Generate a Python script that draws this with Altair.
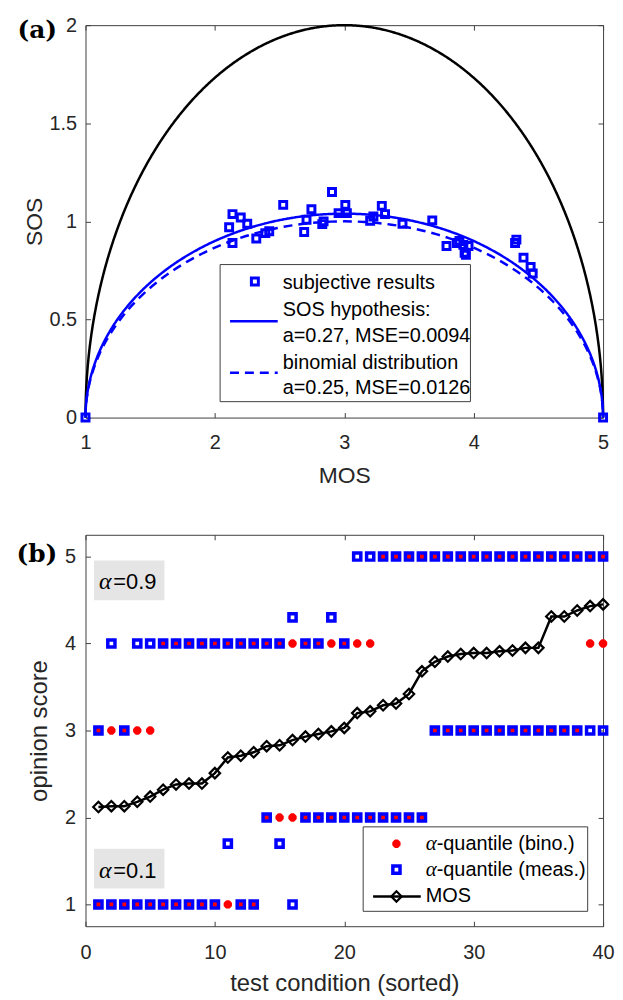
import altair as alt
import pandas as pd

# ---------------- Panel (a) data ----------------
A_MOS = [2.905, 2.528, 2.136, 2.20, 2.25, 2.11, 2.136, 2.32, 2.39, 2.42,
         2.746, 2.708, 2.69, 2.83, 2.84, 2.956, 3.008, 3.02, 3.20, 3.225,
         3.29, 3.315, 3.45, 3.68, 3.79, 3.87, 3.89, 3.92, 3.93, 3.96,
         3.94, 4.32, 4.33, 4.385, 4.44, 4.456, 1.0, 5.0]
A_SOS = [1.15, 1.084, 1.037, 1.02, 0.988, 0.97, 0.89, 0.913, 0.94, 0.95,
         1.062, 1.008, 0.946, 0.986, 1.0, 1.042, 1.084, 1.042, 1.003, 1.025,
         1.079, 1.037, 0.988, 1.005, 0.874, 0.89, 0.90, 0.88, 0.84, 0.874,
         0.83, 0.89, 0.907, 0.815, 0.768, 0.734, 0.0, 0.0]

CURVE_A = [1.0, 0.27, 0.25]          # SOS^2 = a * (-MOS^2 + 6 MOS - 5)
CURVE_COLORS = ["#000000", "#0000ff", "#0000ff"]
CURVE_DASH = [[1, 0], [1, 0], [9, 6]]

A_LEGEND = ["subjective results", "SOS hypothesis:", "a=0.27, MSE=0.0094",
            "binomial distribution", "a=0.25, MSE=0.0126"]

# ---------------- Panel (b) data ----------------
B_COND = list(range(1, 41))
B_MOS = [2.12, 2.13, 2.13, 2.18, 2.24, 2.32, 2.38, 2.39, 2.39, 2.51,
         2.69, 2.71, 2.75, 2.82, 2.83, 2.89, 2.93, 2.96, 2.99, 3.03,
         3.20, 3.22, 3.29, 3.31, 3.42, 3.68, 3.79, 3.85, 3.88, 3.89,
         3.89, 3.91, 3.92, 3.95, 3.95, 4.31, 4.31, 4.38, 4.43, 4.45]
B_Q90_BINO = [3] * 5 + [4] * 17 + [5] * 18
B_Q90_MEAS = [3, 4, 3, 4, 4, 4, 4, 4, 4, 4,
              4, 4, 4, 4, 4, 4.3, 4, 4, 4.3, 4] + [5] * 20
B_Q10_BINO = [1] * 13 + [2] * 13 + [3] * 12 + [4] * 2
B_Q10_MEAS = [1] * 10 + [1.7, 1, 1, 2, 1.7, 1] + [2] * 10 + [3] * 14
B_LEGEND = ["-quantile (bino.)", "-quantile (meas.)", "MOS"]

# ---------------- styling ----------------
FONT = "Liberation Sans"
AX = "#404040"
LBL = "#262626"
BLUE = "#0000ff"
RED = "#ff0000"
ASTERISK = "M-1,0L1,0M0,-1L0,1M-0.7,-0.7L0.7,0.7M-0.7,0.7L0.7,-0.7"

W = 521
HA = 395
HB = 394

one = pd.DataFrame({"k": [0]})


def main_axis(title, values, fmt, label_pad, title_pad, title_size=22):
    return alt.Axis(title=title, values=values, format=fmt, ticks=False, tickSize=0,
                    domain=True, domainColor=AX, domainWidth=1, grid=False,
                    labelFont=FONT, labelFontSize=20, labelColor=LBL,
                    labelPadding=label_pad, labelFlush=False, labelOverlap=False,
                    titleFont=FONT, titleFontSize=title_size, titleFontWeight="normal",
                    titleColor=LBL, titlePadding=title_pad)


def tick_axis(orient, values, offset, domain):
    return alt.Axis(orient=orient, values=values, offset=offset, labels=False,
                    ticks=True, tickSize=5, tickColor=AX, tickWidth=1,
                    domain=domain, domainColor=AX, domainWidth=1, grid=False, title=None)


def txt(s, x, y, size=20, align="left", font=FONT, style="normal", weight="normal"):
    return alt.Chart(one).mark_text(text=s, font=font, fontSize=size, align=align,
                                    baseline="middle", color="#000000",
                                    fontStyle=style, fontWeight=weight).encode(
        x=alt.value(x), y=alt.value(y))


# ================= Panel (a) =================
xa = alt.Scale(domain=[1, 5], nice=False, zero=False)
ya = alt.Scale(domain=[0, 2], nice=False, zero=False)
XA_V = [1, 2, 3, 4, 5]
YA_V = [0, 0.5, 1, 1.5, 2]


def curve(i, xaxis, yaxis):
    a = CURVE_A[i]
    return alt.Chart(alt.sequence(0, 181, 1.5, as_="t")).transform_calculate(
        mos="3 - 2*cos(datum.t*PI/180)",
        sos=f"2*sqrt({a})*sin(datum.t*PI/180)",
    ).mark_line(color=CURVE_COLORS[i], strokeWidth=2.5, strokeDash=CURVE_DASH[i]).encode(
        x=alt.X("mos:Q", scale=xa, axis=xaxis),
        y=alt.Y("sos:Q", scale=ya, axis=yaxis),
        order="t:Q",
    )


a_black = curve(0, main_axis("MOS", XA_V, "d", 15, 12, 23),
                main_axis("SOS", YA_V, ".1~f", 9, 2, 23))
a_sos = curve(1, tick_axis("top", XA_V, -HA, False), tick_axis("right", YA_V, -W, False))
a_bin = curve(2, tick_axis("bottom", XA_V, -HA, True), tick_axis("left", YA_V, -W, True))

a_pts = alt.Chart(pd.DataFrame({"mos": A_MOS, "sos": A_SOS})).mark_point(
    shape="square", filled=False, color=BLUE, size=49, strokeWidth=3, opacity=1).encode(
    x=alt.X("mos:Q", scale=xa, axis=None),
    y=alt.Y("sos:Q", scale=ya, axis=None),
)

# legend (a)
lg_a_box = alt.Chart(one).mark_rect(fill="white", stroke=AX, strokeWidth=1).encode(
    x=alt.value(135.5), x2=alt.value(387.5), y=alt.value(241), y2=alt.value(379))
lg_a_sq = alt.Chart(one).mark_point(shape="square", filled=False, color=BLUE, size=49,
                                    strokeWidth=3, opacity=1).encode(
    x=alt.value(170.5), y=alt.value(258))
lg_a_l1 = alt.Chart(one).mark_rule(color=BLUE, strokeWidth=2.5).encode(
    x=alt.value(145.5), x2=alt.value(193.5), y=alt.value(298))
lg_a_l2 = alt.Chart(one).mark_rule(color=BLUE, strokeWidth=2.5, strokeDash=[9, 6]).encode(
    x=alt.value(145.5), x2=alt.value(193.5), y=alt.value(350))
lg_a_txt = [txt(A_LEGEND[0], 198.5, 260),
            txt(A_LEGEND[1], 198.5, 287),
            txt(A_LEGEND[2], 198.5, 313),
            txt(A_LEGEND[3], 198.5, 340),
            txt(A_LEGEND[4], 198.5, 365)]
lab_a = txt("(a)", -48.5, 5, size=25, align="center", font="DejaVu Serif", weight="bold")

panel_a = alt.layer(a_black, a_sos, a_bin, a_pts, lg_a_box, lg_a_sq, lg_a_l1, lg_a_l2,
                    *lg_a_txt, lab_a).resolve_axis(x="independent", y="independent").properties(
    width=W, height=HA)

# ================= Panel (b) =================
xb = alt.Scale(domain=[0, 40], nice=False, zero=False)
yb = alt.Scale(domain=[0.75, 5.25], nice=False, zero=False)
XB_V = [0, 10, 20, 30, 40]
YB_V = [1, 2, 3, 4, 5]

rows = []
for i, c in enumerate(B_COND):
    rows.append({"cond": c, "kind": "bino", "v": B_Q90_BINO[i]})
    rows.append({"cond": c, "kind": "bino", "v": B_Q10_BINO[i]})
    rows.append({"cond": c, "kind": "meas", "v": B_Q90_MEAS[i]})
    rows.append({"cond": c, "kind": "meas", "v": B_Q10_MEAS[i]})
df_q = pd.DataFrame(rows)
df_m = pd.DataFrame({"cond": B_COND, "mos": B_MOS})

b_bino = alt.Chart(df_q).transform_filter("datum.kind == 'bino'").mark_point(
    shape=ASTERISK, filled=False, color=RED, size=70, strokeWidth=3, opacity=1).encode(
    x=alt.X("cond:Q", scale=xb,
            axis=main_axis("test condition (sorted)", XB_V, "d", 16, 10, 24)),
    y=alt.Y("v:Q", scale=yb, axis=main_axis("opinion score", YB_V, "d", 10, 13, 24)),
)
b_meas = alt.Chart(df_q).transform_filter("datum.kind == 'meas'").mark_point(
    shape="square", filled=False, color=BLUE, size=52, strokeWidth=3.5, opacity=1).encode(
    x=alt.X("cond:Q", scale=xb, axis=tick_axis("top", XB_V, -HB, False)),
    y=alt.Y("v:Q", scale=yb, axis=tick_axis("right", YB_V, -W, False)),
)
b_line = alt.Chart(df_m).mark_line(color="black", strokeWidth=2.5).encode(
    x=alt.X("cond:Q", scale=xb, axis=tick_axis("bottom", XB_V, -HB, True)),
    y=alt.Y("mos:Q", scale=yb, axis=tick_axis("left", YB_V, -W, True)),
)
b_dia = alt.Chart(df_m).mark_point(shape="diamond", filled=False, color="black", size=110,
                                   strokeWidth=2.2, opacity=1).encode(
    x=alt.X("cond:Q", scale=xb, axis=None),
    y=alt.Y("mos:Q", scale=yb, axis=None),
)

box90 = alt.Chart(one).mark_rect(fill="#e5e5e5").encode(
    x=alt.value(8.5), x2=alt.value(79.5), y=alt.value(26), y2=alt.value(66))
box10 = alt.Chart(one).mark_rect(fill="#e5e5e5").encode(
    x=alt.value(8.5), x2=alt.value(79.5), y=alt.value(316), y2=alt.value(356))
al90 = [txt("α", 13.5, 48, size=24, font="Liberation Serif", style="italic"),
        txt("=0.9", 28, 48, size=22)]
al10 = [txt("α", 13.5, 338, size=24, font="Liberation Serif", style="italic"),
        txt("=0.1", 28, 338, size=22)]

lg_b_box = alt.Chart(one).mark_rect(fill="white", stroke=AX, strokeWidth=1).encode(
    x=alt.value(279.5), x2=alt.value(505.5), y=alt.value(294), y2=alt.value(379))
lg_b_ast = alt.Chart(one).mark_point(shape=ASTERISK, filled=False, color=RED, size=70,
                                     strokeWidth=3, opacity=1).encode(
    x=alt.value(313), y=alt.value(311))
lg_b_sq = alt.Chart(one).mark_point(shape="square", filled=False, color=BLUE, size=52,
                                    strokeWidth=3.5, opacity=1).encode(
    x=alt.value(313), y=alt.value(337))
lg_b_ln = alt.Chart(one).mark_rule(color="black", strokeWidth=2.5).encode(
    x=alt.value(289.5), x2=alt.value(337.5), y=alt.value(364))
lg_b_dia = alt.Chart(one).mark_point(shape="diamond", filled=False, color="black", size=110,
                                     strokeWidth=2.2, opacity=1).encode(
    x=alt.value(313), y=alt.value(364))
lg_b_txt = [txt("α", 342.5, 311, size=21, font="Liberation Serif", style="italic"),
            txt(B_LEGEND[0], 353.5, 311),
            txt("α", 342.5, 337, size=21, font="Liberation Serif", style="italic"),
            txt(B_LEGEND[1], 353.5, 337),
            txt(B_LEGEND[2], 342.5, 364)]
lab_b = txt("(b)", -49, 19, size=25, align="center", font="DejaVu Serif", weight="bold")

panel_b = alt.layer(box90, box10, b_bino, b_meas, b_line, b_dia, *al90, *al10,
                    lg_b_box, lg_b_ast, lg_b_sq, lg_b_ln, lg_b_dia, *lg_b_txt, lab_b
                    ).resolve_axis(x="independent", y="independent").properties(width=W, height=HB)

chart = alt.vconcat(panel_a, panel_b, spacing=47).properties(
    padding={"left": 8, "top": 4, "right": 0, "bottom": 0}
).configure_view(stroke=None)

chart.save("out.html", embed_options={"renderer": "svg", "actions": False})
